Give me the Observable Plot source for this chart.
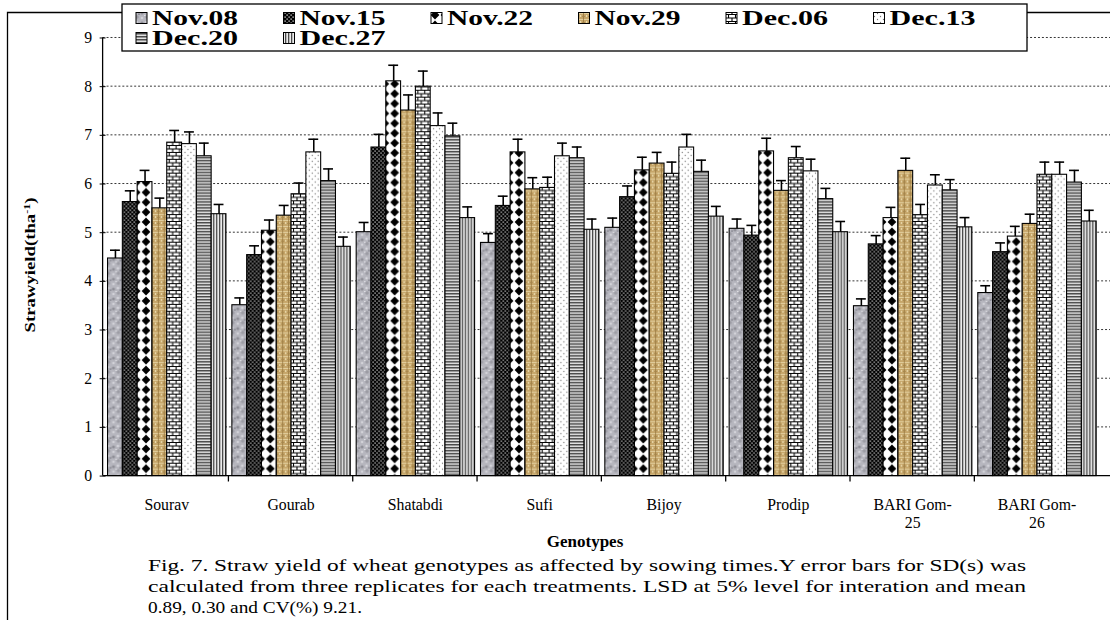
<!DOCTYPE html>
<html>
<head>
<meta charset="utf-8">
<script src="https://cdn.jsdelivr.net/npm/d3@7"></script>
<script src="https://cdn.jsdelivr.net/npm/@observablehq/plot@0.6"></script>
<style>
  html, body { margin: 0; padding: 0; background: #fff; overflow: hidden; }
  #wrap { position: relative; width: 1110px; height: 620px; overflow: hidden; background: #fff; }
  #chart { position: absolute; left: 0; top: 0; }
  #overlay { position: absolute; left: 0; top: 0; pointer-events: none; }
  text { font-family: "Liberation Serif", "Times New Roman", serif; }
</style>
</head>
<body>
<svg width="0" height="0" style="position:absolute">
  <defs>
    <pattern id="p0" patternUnits="userSpaceOnUse" width="10" height="10">
      <rect width="10" height="10" fill="#b6b6be"/>
      <circle cx="2" cy="3" r="1.6" fill="#8e8e96"/>
      <circle cx="7" cy="7" r="1.8" fill="#9c9ca4"/>
      <circle cx="6.5" cy="2" r="1.2" fill="#d8d8de"/>
      <circle cx="2" cy="8" r="1.3" fill="#d2d2d8"/>
      <rect x="8" y="3.5" width="2" height="1.2" fill="#80808a"/>
      <rect x="4" y="5" width="1.5" height="1" fill="#e2e2e6"/>
    </pattern>
    <pattern id="p1" patternUnits="userSpaceOnUse" width="4" height="4">
      <rect width="4" height="4" fill="#000"/>
      <rect x="0.5" y="0.5" width="1.2" height="1.2" fill="#fff"/>
      <rect x="2.5" y="2.5" width="1.2" height="1.2" fill="#fff"/>
    </pattern>
    <pattern id="p2" patternUnits="userSpaceOnUse" width="10" height="10">
      <rect width="10" height="10" fill="#fff"/>
      <polygon points="5,0.6 9.4,5 5,9.4 0.6,5" fill="#000"/>
    </pattern>
    <pattern id="p3" patternUnits="userSpaceOnUse" width="6" height="6">
      <rect width="6" height="6" fill="#c6a66a"/>
      <path d="M0 1.5H6" stroke="#e6d4a4" stroke-width="0.9"/>
      <path d="M1.5 0V6" stroke="#8e6e36" stroke-width="0.7"/>
      <path d="M0 4.5H3" stroke="#a4844a" stroke-width="0.8"/>
      <rect x="4" y="3" width="1.2" height="2" fill="#ecdcb0"/>
    </pattern>
    <pattern id="p4" patternUnits="userSpaceOnUse" width="14" height="7">
      <rect width="14" height="7" fill="#fff"/>
      <path d="M0 0.5H14M0 4H14M0.5 0.5V4M7.5 0.5V4M4 4V7.5M11 4V7.5" stroke="#000" stroke-width="1.1"/>
    </pattern>
    <pattern id="p5" patternUnits="userSpaceOnUse" width="6" height="6">
      <rect width="6" height="6" fill="#fff"/>
      <circle cx="1.5" cy="1.5" r="0.65" fill="#777"/>
      <circle cx="4.5" cy="4.5" r="0.65" fill="#777"/>
    </pattern>
    <pattern id="p6" patternUnits="userSpaceOnUse" width="3" height="3">
      <rect width="3" height="3" fill="#e2e2e2"/>
      <rect width="3" height="1.5" fill="#4a4a4a"/>
    </pattern>
    <pattern id="p7" patternUnits="userSpaceOnUse" width="3" height="3">
      <rect width="3" height="3" fill="#ececec"/>
      <rect width="1.3" height="3" fill="#4a4a4a"/>
    </pattern>
  </defs>
</svg>
<div id="wrap">
  <div id="chart"></div>
  <svg id="overlay" width="1110" height="620"></svg>
</div>
<script>
// ---------- data ----------
const genotypes = ["Sourav", "Gourab", "Shatabdi", "Sufi", "Bijoy", "Prodip", "BARI Gom-25", "BARI Gom-26"];
const sowingDates = ["Nov.08", "Nov.15", "Nov.22", "Nov.29", "Dec.06", "Dec.13", "Dec.20", "Dec.27"];
const patternIds = ["p0", "p1", "p2", "p3", "p4", "p5", "p6", "p7"];

// straw yield (t/ha), one array per sowing date, in genotype order
const yieldNov08 = [4.47, 3.51, 5.01, 4.79, 5.10, 5.08, 3.49, 3.76];
const yieldNov15 = [5.63, 4.54, 6.75, 5.55, 5.73, 4.94, 4.76, 4.60];
const yieldNov22 = [6.04, 5.04, 8.11, 6.65, 6.28, 6.67, 5.30, 4.92];
const yieldNov29 = [5.50, 5.35, 7.51, 5.89, 6.42, 5.86, 6.27, 5.18];
const yieldDec06 = [6.85, 5.79, 8.00, 5.92, 6.21, 6.53, 5.36, 6.19];
const yieldDec13 = [6.82, 6.65, 7.19, 6.57, 6.75, 6.26, 5.97, 6.19];
const yieldDec20 = [6.57, 6.06, 6.98, 6.53, 6.25, 5.69, 5.87, 6.03];
const yieldDec27 = [5.38, 4.71, 5.30, 5.06, 5.33, 5.01, 5.11, 5.23];

// standard deviations (error bars)
const sdNov08 = [0.17, 0.15, 0.20, 0.19, 0.20, 0.20, 0.15, 0.15];
const sdNov15 = [0.23, 0.19, 0.27, 0.20, 0.23, 0.21, 0.18, 0.19];
const sdNov22 = [0.24, 0.22, 0.33, 0.27, 0.27, 0.27, 0.22, 0.21];
const sdNov29 = [0.21, 0.21, 0.32, 0.24, 0.23, 0.21, 0.26, 0.20];
const sdDec06 = [0.25, 0.23, 0.32, 0.22, 0.24, 0.24, 0.22, 0.26];
const sdDec13 = [0.25, 0.27, 0.27, 0.27, 0.27, 0.25, 0.22, 0.26];
const sdDec20 = [0.27, 0.25, 0.27, 0.23, 0.24, 0.22, 0.22, 0.25];
const sdDec27 = [0.20, 0.20, 0.23, 0.22, 0.21, 0.22, 0.20, 0.23];

const yTicks = [0, 1, 2, 3, 4, 5, 6, 7, 8, 9];

const yieldSeries = [yieldNov08, yieldNov15, yieldNov22, yieldNov29, yieldDec06, yieldDec13, yieldDec20, yieldDec27];
const sdSeries = [sdNov08, sdNov15, sdNov22, sdNov29, sdDec06, sdDec13, sdDec20, sdDec27];

const data = sowingDates.flatMap((date, j) => genotypes.map((g, i) => ({
  genotype: g, date, value: yieldSeries[j][i], sd: sdSeries[j][i], fill: `url(#${patternIds[j]})`
})));

// ---------- plot ----------
const plot = Plot.plot({
  width: 1125,
  height: 560,
  marginLeft: 104,
  marginRight: 10,
  marginTop: 38,
  marginBottom: 78,
  style: { fontFamily: '"Liberation Serif", "Times New Roman", serif', fontSize: "16px", color: "#000", background: "transparent" },
  color: { type: "identity" },
  fx: { domain: genotypes, paddingInner: 0.02, paddingOuter: 0.01, axis: "bottom", tickSize: 0, tickPadding: 23, label: null,
        tickFormat: d => d.replace("Gom-", "Gom-\n") },
  x: { domain: sowingDates, padding: 0, axis: null },
  y: { domain: [0, 9], ticks: yTicks, tickSize: 6, tickPadding: 8, label: null },
  marks: [
    Plot.barY(data, { fx: "genotype", x: "date", y: "value", fill: "fill", stroke: "#000", strokeWidth: 1.1 }),
    Plot.ruleX(data, { fx: "genotype", x: "date", y1: "value", y2: d => d.value + d.sd, stroke: "#000", strokeWidth: 1.6 }),
    Plot.tickY(data, { fx: "genotype", x: "date", y: d => d.value + d.sd, stroke: "#000", strokeWidth: 1.6, insetLeft: 2.5, insetRight: 2.5 })
  ]
});
document.getElementById("chart").appendChild(plot);

// gridlines, axis lines and category boundary ticks, from the plot's own scales
const svg = d3.select(plot);
const ys = plot.scale("y");
const fxs = plot.scale("fx");
const x0 = 104, x1 = 1125;
const grid = svg.insert("g", "g").attr("stroke", "#333").attr("stroke-dasharray", "2,2").attr("stroke-width", 1);
yTicks.filter(t => t > 0).forEach(t => {
  grid.append("line").attr("x1", x0).attr("x2", x1).attr("y1", ys.apply(t)).attr("y2", ys.apply(t));
});
const axes = svg.append("g").attr("stroke", "#000").attr("stroke-width", 1.3);
axes.append("line").attr("x1", x0).attr("x2", x0).attr("y1", ys.apply(0)).attr("y2", ys.apply(9));
axes.append("line").attr("x1", x0).attr("x2", x1).attr("y1", ys.apply(0)).attr("y2", ys.apply(0));
const gap = fxs.step - fxs.bandwidth;
genotypes.forEach((g, i) => {
  if (i === 0) return;
  const bx = fxs.apply(g) - gap / 2;
  axes.append("line").attr("x1", bx).attr("x2", bx).attr("y1", ys.apply(0)).attr("y2", ys.apply(0) + 6);
});
// a little more space between the two lines of wrapped tick labels
svg.selectAll("tspan").filter(function () { return this.previousSibling && this.parentNode.tagName === "text"; })
  .attr("dy", "1.15em");

// ---------- overlay: frame, legend, titles, caption ----------
const ov = d3.select("#overlay");
ov.append("path").attr("d", "M7.5 620V12.5H1110").attr("fill", "none").attr("stroke", "#000").attr("stroke-width", 1.3);

const leg = ov.append("g");
leg.append("rect").attr("x", 122).attr("y", 4).attr("width", 905).attr("height", 47)
  .attr("fill", "#fff").attr("stroke", "#000").attr("stroke-width", 1.3);
sowingDates.forEach((d, j) => {
  const col = j % 6, row = Math.floor(j / 6);
  const sx = 136 + 147.5 * col, cy = 18 + 20 * row;
  leg.append("rect").attr("x", sx).attr("y", cy - 5.5).attr("width", 11).attr("height", 11)
    .attr("fill", `url(#${patternIds[j]})`).attr("stroke", "#000").attr("stroke-width", 1);
  leg.append("text").attr("x", sx + 16).attr("y", cy + 7).attr("font-size", 20).attr("font-weight", "bold")
    .attr("textLength", 86).attr("lengthAdjust", "spacingAndGlyphs").text(d);
});

// y-axis title
const yt = ov.append("text").attr("transform", "translate(35,265) rotate(-90)").attr("text-anchor", "middle")
  .attr("font-size", 14).attr("font-weight", "bold").attr("textLength", 135).attr("lengthAdjust", "spacingAndGlyphs");
yt.append("tspan").text("Strawyield(tha");
yt.append("tspan").attr("baseline-shift", "super").attr("font-size", 9).text("-1");
yt.append("tspan").attr("baseline-shift", "0").text(")");

// x-axis title
ov.append("text").attr("x", 585).attr("y", 547).attr("text-anchor", "middle").attr("font-size", 17)
  .attr("font-weight", "bold").text("Genotypes");

// caption
const captionLines = [
  ["Fig. 7. Straw yield of wheat genotypes as affected by sowing times.Y error bars for SD(s) was", 878],
  ["calculated from three replicates for each treatments. LSD at 5% level for interation and mean", 878],
  ["0.89, 0.30 and CV(%) 9.21.", 214]
];
captionLines.forEach(([t, w], i) => {
  ov.append("text").attr("x", 148).attr("y", 571 + 21 * i).attr("font-size", 17)
    .attr("textLength", w).attr("lengthAdjust", "spacingAndGlyphs").text(t);
});
</script>
</body>
</html>
